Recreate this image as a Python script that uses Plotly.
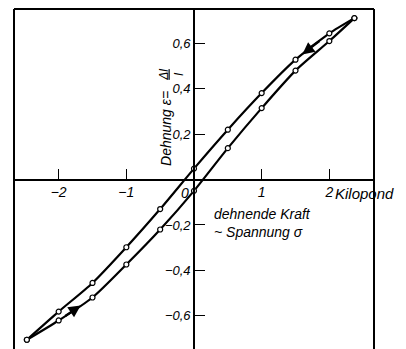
import plotly.graph_objects as go

# --- data ---
# descending branch (unloading), from upper right to lower left
upper_x = [2.37, 2.0, 1.5, 1.0, 0.5, 0.0, -0.5, -1.0, -1.5, -2.0, -2.47]
upper_y = [0.710, 0.643, 0.527, 0.380, 0.219, 0.048, -0.130, -0.298, -0.455, -0.581, -0.705]
# ascending branch (loading), from lower left to upper right
lower_x = [-2.47, -2.0, -1.5, -1.0, -0.5, 0.0, 0.5, 1.0, 1.5, 2.0, 2.37]
lower_y = [-0.705, -0.620, -0.519, -0.374, -0.220, -0.050, 0.138, 0.314, 0.479, 0.609, 0.710]

x_tickvals = [-2, -1, 1, 2]
x_ticktext = ["−2", "−1", "1", "2"]
y_tickvals = [-0.6, -0.4, -0.2, 0.2, 0.4, 0.6]
y_ticktext = ["−0,6", "−0,4", "−0,2", "0,2", "0,4", "0,6"]

x_range = [-2.66, 2.66]
y_range = [-0.75, 0.75]

FONT = "Liberation Sans, Arial, sans-serif"

fig = go.Figure()
for xs, ys in [(upper_x, upper_y), (lower_x, lower_y)]:
    fig.add_trace(go.Scatter(
        x=xs, y=ys, mode="lines+markers",
        line=dict(color="black", width=2.2, shape="spline", smoothing=0.7),
        marker=dict(symbol="circle", size=5, color="white",
                    line=dict(color="black", width=1.2)),
        hoverinfo="skip", showlegend=False,
    ))


def along(xs, ys, i, t):
    return xs[i] + t * (xs[i + 1] - xs[i]), ys[i] + t * (ys[i + 1] - ys[i])


annotations = []
# direction arrows drawn on the branches (positions derived from the data)
for xs, ys, i, t_tail, t_tip in [(upper_x, upper_y, 1, 0.25, 0.8),
                                 (lower_x, lower_y, 1, 0.15, 0.65)]:
    tx, ty = along(xs, ys, i, t_tip)
    axx, ayy = along(xs, ys, i, t_tail)
    annotations.append(dict(
        x=tx, y=ty, ax=axx, ay=ayy, xref="x", yref="y", axref="x", ayref="y",
        text="", showarrow=True, arrowhead=2, arrowsize=1.1, arrowwidth=2.2,
        arrowcolor="black", standoff=0, startstandoff=0,
    ))

annotations += [
    dict(x=0, y=0, xref="x", yref="y", text="0", showarrow=False,
         xanchor="right", yanchor="top", xshift=-3, yshift=-3,
         font=dict(family=FONT, size=14, style="italic", color="black")),
    dict(x=x_tickvals[-1], y=0, xref="x", yref="y", text="Kilopond",
         showarrow=False, xanchor="left", yanchor="top", xshift=4, yshift=-3,
         font=dict(family=FONT, size=15, style="italic", color="black")),
    dict(x=0.27, y=-0.19, xref="x", yref="y",
         text="dehnende Kraft<br>~ Spannung σ", showarrow=False,
         xanchor="left", yanchor="middle", align="left",
         font=dict(family=FONT, size=14, style="italic", color="black")),
    dict(x=0.422, y=0.651, xref="paper", yref="paper", text="Dehnung ε=",
         showarrow=False, textangle=-90, xanchor="center", yanchor="middle",
         font=dict(family=FONT, size=14, style="italic", color="black")),
    dict(x=0.438, y=0.806, xref="paper", yref="paper", text="<u>Δl</u><br>l",
         showarrow=False, textangle=-90, xanchor="center", yanchor="middle",
         font=dict(family=FONT, size=12, style="italic", color="black")),
]

frame = dict(color="black", width=2)
shapes = [
    dict(type="line", xref="paper", yref="paper", x0=0, x1=0, y0=0, y1=1, line=frame),
    dict(type="line", xref="paper", yref="paper", x0=0, x1=1, y0=1, y1=1, line=frame),
    dict(type="line", xref="paper", yref="paper", x0=1, x1=1, y0=0, y1=1, line=frame),
]

x_pos = (0 - y_range[0]) / (y_range[1] - y_range[0])
y_pos = (0 - x_range[0]) / (x_range[1] - x_range[0])

# the page body adds an 8px offset, so margins are reduced accordingly
fig.update_layout(
    width=406, height=349,
    margin=dict(l=6, r=40, t=1, b=7, autoexpand=False),
    paper_bgcolor="white", plot_bgcolor="white",
    font=dict(family=FONT, size=14, style="italic", color="black"),
    showlegend=False, hovermode=False,
    xaxis=dict(range=x_range, anchor="free", position=x_pos, side="bottom",
               automargin=False,
               showline=True, linecolor="black", linewidth=1.6,
               showgrid=False, zeroline=False,
               tickvals=x_tickvals, ticktext=x_ticktext,
               ticks="inside", ticklen=10, tickwidth=1.4, tickcolor="black",
               tickfont=dict(family=FONT, size=14, style="italic", color="black")),
    yaxis=dict(range=y_range, anchor="free", position=y_pos, side="left",
               automargin=False,
               showline=True, linecolor="black", linewidth=1.6,
               showgrid=False, zeroline=False,
               tickvals=y_tickvals, ticktext=y_ticktext,
               ticks="inside", ticklen=10, tickwidth=1.4, tickcolor="black",
               tickfont=dict(family=FONT, size=13, style="italic", color="black")),
    annotations=annotations,
    shapes=shapes,
)

fig.write_html("out.html")
